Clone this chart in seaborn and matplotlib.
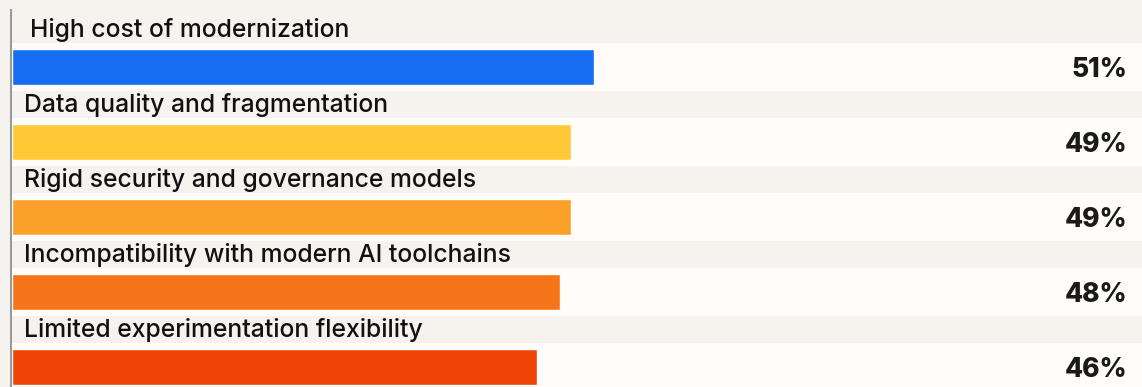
import matplotlib
matplotlib.use("Agg")
import matplotlib.pyplot as plt
import matplotlib.transforms as mtransforms
import seaborn as sns
import pandas as pd

categories = [
    "High cost of modernization",
    "Data quality and fragmentation",
    "Rigid security and governance models",
    "Incompatibility with modern AI toolchains",
    "Limited experimentation flexibility",
]
values = [51, 49, 49, 48, 46]
value_labels = ["51%", "49%", "49%", "48%", "46%"]
colors = ["#176EF2", "#FFC935", "#FBA12A", "#F67519", "#F04406"]

W, H = 1142, 387
BG = "#F6F3EF"
BAND = "#FFFCFA"

sns.set_theme(style="white")
plt.rcParams["font.family"] = ["Inter", "DejaVu Sans"]

fig = plt.figure(figsize=(W / 100, H / 100), dpi=100, facecolor=BG)
left_px = 12
ax = fig.add_axes([left_px / W, 0, (W - left_px) / W, 1])
ax.set_facecolor(BG)

df = pd.DataFrame({"cat": categories, "val": values})
for i in range(len(categories)):
    ax.axhspan(i - 24 / 75, i + 24 / 75, color=BAND, zorder=0, lw=0)

sns.barplot(data=df, y="cat", x="val", hue="cat", palette=colors, orient="h",
            width=36 / 75, saturation=1, legend=False, ax=ax, zorder=2)

px_per_unit = 11.41
ax.set_xlim(0, (W - left_px) / px_per_unit)
ax.set_ylim((H - 67) / 75, -67 / 75)

ax.set_xlabel("")
ax.set_ylabel("")
ax.set_xticks([])
ax.set_yticks([])
for s in ["top", "right", "bottom"]:
    ax.spines[s].set_visible(False)
ax.spines["left"].set_color("#9A9A9A")
ax.spines["left"].set_linewidth(1.5)
ax.spines["left"].set_position(("outward", 0.75))
ax.spines["left"].set_bounds((H - 67) / 75, -57 / 75)

trans = mtransforms.blended_transform_factory(fig.transFigure, ax.transData)
for i, (c, v) in enumerate(zip(categories, value_labels)):
    xlab = 30 if i == 0 else 24
    ax.text(xlab / W, i - 30 / 75, c, transform=trans, ha="left", va="baseline",
            fontsize=17.8, fontweight="medium", color="#111111")
    ax.text(1127 / W, i + 10 / 75, v, transform=trans, ha="right", va="baseline",
            fontsize=19, fontweight="heavy", color="#1A1A1A")

fig.savefig("out.png", dpi=100, facecolor=BG)
